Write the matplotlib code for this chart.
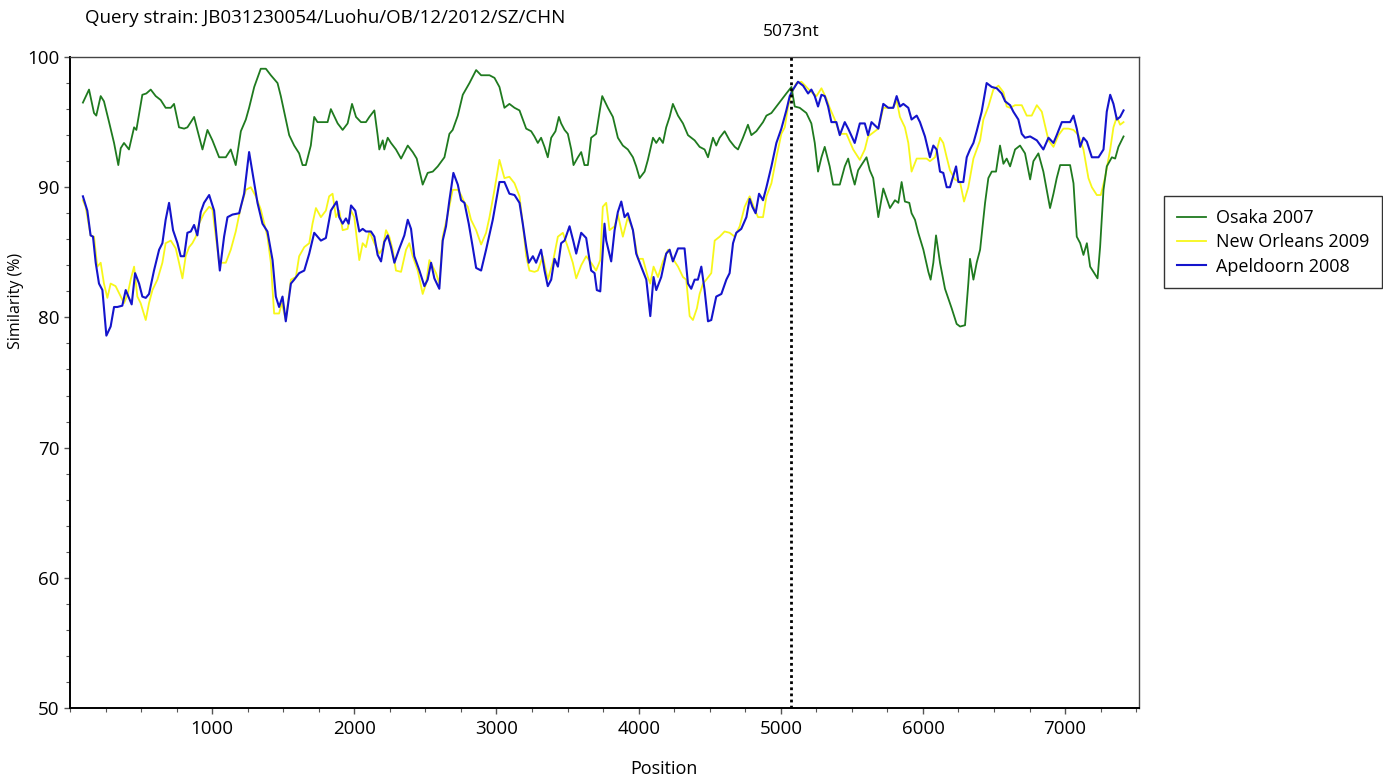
import numpy as np
import matplotlib.pyplot as plt
from matplotlib.ticker import MultipleLocator

plt.rcParams['font.family'] = ['Open Sans', 'DejaVu Sans']

# Osaka 2007 (green)
osaka_pos = [91, 134, 169, 185, 216, 239, 275, 310, 340, 357, 380, 415, 451, 467, 509, 537, 568, 603, 638,
             673, 709, 732, 767, 803, 826, 850, 873, 896, 932, 967, 1002, 1049, 1096, 1131, 1166, 1202, 1237,
             1260, 1296, 1342, 1378, 1413, 1460, 1483, 1542, 1577, 1612, 1636, 1659, 1694, 1718, 1741, 1812,
             1835, 1883, 1918, 1953, 1984, 2012, 2047, 2082, 2106, 2141, 2164, 2176, 2200, 2211, 2235, 2258,
             2293, 2329, 2376, 2411, 2439, 2481, 2516, 2552, 2587, 2634, 2669, 2692, 2728, 2763, 2810, 2857,
             2892, 2951, 2986, 3021, 3056, 3091, 3127, 3162, 3209, 3244, 3267, 3291, 3314, 3338, 3361, 3385,
             3415, 3439, 3455, 3479, 3502, 3526, 3542, 3573, 3596, 3619, 3643, 3666, 3701, 3730, 3744, 3784,
             3819, 3854, 3889, 3924, 3960, 3983, 4007, 4042, 4065, 4101, 4124, 4147, 4171, 4194, 4218, 4241,
             4277, 4312, 4347, 4394, 4429, 4464, 4488, 4523, 4546, 4570, 4605, 4640, 4676, 4699, 4734, 4769,
             4793, 4828, 4875, 4899, 4934, 4969, 5004, 5039, 5075, 5098, 5133, 5180, 5215, 5239, 5262, 5286,
             5309, 5344, 5368, 5415, 5450, 5474, 5497, 5520, 5544, 5567, 5603, 5626, 5650, 5686, 5721, 5768,
             5803, 5827, 5850, 5873, 5904, 5920, 5944, 5967, 6003, 6038, 6054, 6073, 6092, 6120, 6155, 6202,
             6237, 6261, 6296, 6319, 6331, 6355, 6378, 6402, 6437, 6460, 6484, 6514, 6542, 6566, 6589, 6613,
             6648, 6683, 6718, 6754, 6777, 6812, 6847, 6894, 6918, 6941, 6965, 7035, 7059, 7082, 7106, 7129,
             7153, 7176, 7199, 7228, 7246, 7270, 7293, 7329, 7352, 7375, 7411]
osaka_sim = [96.5, 97.5, 95.7, 95.5, 97.0, 96.6, 95.0, 93.4, 91.7, 93.0, 93.4, 92.9, 94.6, 94.4, 97.1, 97.2,
             97.5, 97.0, 96.7, 96.1, 96.1, 96.4, 94.6, 94.5, 94.6, 95.0, 95.4, 94.4, 92.9, 94.4, 93.6, 92.3,
             92.3, 92.9, 91.7, 94.3, 95.2, 96.1, 97.7, 99.1, 99.1, 98.6, 98.0, 97.0, 94.0, 93.2, 92.6, 91.7,
             91.7, 93.2, 95.4, 95.0, 95.0, 96.0, 94.9, 94.4, 94.9, 96.4, 95.4, 95.0, 95.0, 95.4, 95.9, 94.0,
             92.9, 93.6, 92.9, 93.8, 93.4, 92.9, 92.2, 93.2, 92.7, 92.2, 90.2, 91.1, 91.2, 91.6, 92.3, 94.1,
             94.4, 95.5, 97.1, 98.0, 99.0, 98.6, 98.6, 98.4, 97.7, 96.1, 96.4, 96.1, 95.9, 94.5, 94.3, 93.9,
             93.4, 93.8, 93.1, 92.3, 93.8, 94.3, 95.4, 94.9, 94.4, 94.1, 92.9, 91.7, 92.3, 92.7, 91.7, 91.7,
             93.8, 94.1, 96.1, 97.0, 96.1, 95.4, 93.8, 93.2, 92.9, 92.3, 91.6, 90.7, 91.2, 92.1, 93.8, 93.4,
             93.8, 93.4, 94.6, 95.4, 96.4, 95.5, 94.9, 94.0, 93.6, 93.1, 92.9, 92.3, 93.8, 93.2, 93.8, 94.3,
             93.6, 93.1, 92.9, 93.8, 94.8, 94.0, 94.3, 95.0, 95.5, 95.7, 96.2, 96.7, 97.2, 97.7, 96.2, 96.1,
             95.7, 94.9, 93.4, 91.2, 92.3, 93.1, 91.6, 90.2, 90.2, 91.6, 92.2, 91.1, 90.2, 91.3, 91.7, 92.3,
             91.3, 90.7, 87.7, 89.9, 88.4, 89.0, 88.8, 90.4, 88.9, 88.8, 88.0, 87.5, 86.5, 85.2, 83.5, 82.9,
             84.2, 86.3, 84.2, 82.2, 80.7, 79.5, 79.3, 79.4, 82.6, 84.5, 82.9, 84.2, 85.2, 88.8, 90.7, 91.2,
             91.2, 93.2, 91.8, 92.2, 91.6, 92.9, 93.2, 92.6, 90.6, 92.0, 92.6, 91.2, 88.4, 89.5, 90.7, 91.7,
             91.7, 90.3, 86.2, 85.7, 84.8, 85.7, 83.9, 83.5, 83.0, 85.4, 89.8, 91.6, 92.3, 92.2, 93.1, 93.9]

# New Orleans 2009 (yellow)
orleans_pos = [91, 110, 145, 169, 192, 216, 239, 263, 286, 321, 357, 380, 404, 427, 451, 474, 497, 533, 556,
               580, 615, 650, 673, 709, 744, 767, 791, 814, 838, 861, 885, 908, 943, 979, 1002, 1026, 1049,
               1096, 1131, 1166, 1202, 1237, 1272, 1307, 1342, 1389, 1413, 1436, 1471, 1490, 1518, 1554, 1589,
               1612, 1648, 1683, 1706, 1730, 1765, 1800, 1823, 1847, 1871, 1894, 1918, 1953, 1977, 2000, 2035,
               2059, 2082, 2106, 2141, 2176, 2200, 2223, 2246, 2270, 2293, 2329, 2364, 2387, 2411, 2446, 2481,
               2505, 2528, 2552, 2575, 2598, 2622, 2657, 2692, 2728, 2751, 2775, 2798, 2821, 2857, 2892, 2927,
               2951, 2986, 3021, 3056, 3091, 3127, 3162, 3185, 3209, 3232, 3267, 3291, 3326, 3361, 3396, 3432,
               3467, 3502, 3537, 3561, 3596, 3631, 3666, 3701, 3730, 3748, 3772, 3795, 3831, 3854, 3889, 3924,
               3960, 3995, 4030, 4065, 4082, 4105, 4136, 4171, 4206, 4241, 4277, 4312, 4335, 4359, 4382, 4410,
               4429, 4453, 4476, 4511, 4535, 4570, 4605, 4640, 4676, 4711, 4746, 4781, 4816, 4840, 4875, 4899,
               4934, 4969, 5004, 5028, 5051, 5075, 5110, 5145, 5180, 5215, 5251, 5286, 5321, 5344, 5380, 5415,
               5462, 5509, 5556, 5591, 5614, 5638, 5686, 5721, 5756, 5791, 5815, 5838, 5873, 5897, 5920, 5956,
               5991, 6026, 6049, 6085, 6120, 6143, 6167, 6190, 6225, 6261, 6289, 6319, 6355, 6402, 6425, 6460,
               6495, 6531, 6566, 6589, 6613, 6648, 6695, 6730, 6765, 6801, 6836, 6883, 6918, 6953, 6988, 7023,
               7059, 7094, 7129, 7164, 7188, 7223, 7251, 7282, 7317, 7340, 7364, 7387, 7411]
orleans_sim = [89.0, 88.5, 86.3, 86.2, 83.9, 84.2, 82.6, 81.5, 82.6, 82.4, 81.6, 81.1, 81.7, 82.9, 83.9, 81.6,
               81.1, 79.8, 81.1, 82.1, 82.9, 84.2, 85.7, 85.9, 85.3, 84.2, 83.0, 84.7, 85.4, 85.7, 86.2, 87.2,
               88.0, 88.5, 88.3, 86.2, 84.2, 84.2, 85.2, 86.6, 88.5, 89.8, 90.0, 89.3, 88.3, 86.2, 84.2, 80.3,
               80.3, 81.1, 79.8, 82.9, 83.1, 84.7, 85.4, 85.7, 87.2, 88.4, 87.7, 88.2, 89.3, 89.5, 87.7, 88.2,
               86.7, 86.8, 88.2, 87.7, 84.4, 85.7, 85.4, 86.6, 85.7, 84.9, 85.3, 86.7, 86.2, 85.2, 83.6, 83.5,
               85.2, 85.7, 84.7, 83.6, 81.8, 82.6, 84.4, 83.9, 83.4, 82.6, 86.2, 87.9, 89.8, 89.8, 89.4, 88.8,
               88.5, 87.5, 86.7, 85.6, 86.5, 87.7, 89.8, 92.1, 90.7, 90.8, 90.3, 89.3, 87.2, 84.7, 83.6, 83.5,
               83.6, 84.7, 82.9, 84.2, 86.2, 86.5, 85.4, 84.2, 83.0, 84.0, 84.7, 84.2, 83.6, 84.4, 88.5, 88.8,
               86.7, 87.0, 87.9, 86.2, 87.7, 86.7, 84.5, 84.5, 83.1, 82.6, 83.9, 83.1, 84.3, 85.2, 84.5, 83.9,
               83.1, 82.9, 80.1, 79.8, 80.7, 81.8, 82.6, 82.9, 83.4, 85.9, 86.2, 86.6, 86.5, 86.2, 87.0, 88.5,
               89.3, 88.3, 87.7, 87.7, 89.3, 90.3, 92.3, 94.1, 94.6, 96.2, 97.2, 98.0, 98.1, 97.7, 97.3, 97.0,
               97.6, 96.8, 96.1, 95.2, 94.1, 94.1, 92.9, 92.1, 92.9, 93.9, 94.1, 94.5, 96.1, 96.1, 96.1, 96.7,
               95.4, 94.6, 93.4, 91.2, 92.2, 92.2, 92.2, 92.0, 92.3, 93.8, 93.4, 92.3, 91.3, 90.6, 90.4, 88.9,
               90.0, 92.2, 93.6, 95.2, 96.2, 97.5, 97.8, 97.3, 96.2, 96.1, 96.3, 96.3, 95.5, 95.5, 96.3, 95.8,
               93.6, 93.1, 94.0, 94.5, 94.5, 94.4, 94.0, 92.9, 90.7, 90.0, 89.4, 89.4, 90.8, 92.9, 94.6, 95.4,
               94.8, 95.0]

# Apeldoorn 2008 (blue)
apeldoorn_pos = [91, 122, 145, 162, 181, 204, 228, 256, 286, 310, 333, 368, 392, 415, 434, 458, 486, 509, 533,
                 556, 591, 627, 650, 673, 697, 725, 756, 779, 803, 826, 850, 873, 896, 920, 943, 979, 1014, 1054,
                 1084, 1108, 1143, 1190, 1225, 1260, 1296, 1319, 1354, 1389, 1425, 1448, 1471, 1495, 1518, 1554,
                 1577, 1612, 1648, 1683, 1718, 1741, 1765, 1800, 1835, 1876, 1894, 1918, 1941, 1960, 1977, 2007,
                 2035, 2059, 2082, 2117, 2141, 2164, 2188, 2211, 2235, 2258, 2282, 2317, 2352, 2376, 2399, 2422,
                 2458, 2493, 2516, 2540, 2563, 2598, 2622, 2645, 2669, 2697, 2728, 2751, 2775, 2805, 2833, 2857,
                 2892, 2927, 2974, 3021, 3056, 3091, 3127, 3162, 3185, 3209, 3227, 3256, 3279, 3314, 3338, 3361,
                 3385, 3408, 3432, 3455, 3479, 3514, 3542, 3561, 3596, 3631, 3666, 3690, 3706, 3730, 3760, 3772,
                 3807, 3831, 3854, 3878, 3901, 3924, 3960, 3983, 4018, 4054, 4082, 4105, 4124, 4159, 4194, 4218,
                 4241, 4277, 4323, 4347, 4370, 4394, 4417, 4441, 4464, 4488, 4511, 4546, 4582, 4617, 4640, 4664,
                 4687, 4722, 4758, 4781, 4800, 4823, 4847, 4875, 4899, 4934, 4969, 5004, 5039, 5063, 5086, 5121,
                 5157, 5192, 5215, 5239, 5262, 5286, 5309, 5333, 5356, 5391, 5415, 5450, 5474, 5520, 5556, 5591,
                 5614, 5638, 5686, 5721, 5756, 5791, 5815, 5838, 5862, 5897, 5920, 5956, 5979, 6014, 6049, 6073,
                 6096, 6120, 6143, 6167, 6190, 6214, 6233, 6249, 6284, 6308, 6331, 6355, 6378, 6413, 6448, 6484,
                 6519, 6554, 6578, 6613, 6636, 6671, 6695, 6718, 6754, 6801, 6847, 6883, 6918, 6941, 6977, 7035,
                 7059, 7082, 7106, 7129, 7153, 7188, 7235, 7270, 7293, 7317, 7340, 7364, 7387, 7411]
apeldoorn_sim = [89.3, 88.2, 86.3, 86.2, 84.2, 82.6, 82.1, 78.6, 79.3, 80.8, 80.8, 80.9, 82.1, 81.5, 81.0, 83.4,
                 82.6, 81.6, 81.5, 81.8, 83.6, 85.2, 85.7, 87.5, 88.8, 86.7, 85.7, 84.7, 84.7, 86.5, 86.6, 87.1,
                 86.3, 88.1, 88.8, 89.4, 88.2, 83.6, 86.2, 87.7, 87.9, 88.0, 89.5, 92.7, 90.3, 88.8, 87.2, 86.6,
                 84.4, 81.6, 80.8, 81.6, 79.7, 82.6, 82.9, 83.4, 83.6, 84.9, 86.5, 86.2, 85.9, 86.1, 88.2, 88.9,
                 87.7, 87.2, 87.6, 87.2, 88.6, 88.2, 86.6, 86.8, 86.6, 86.6, 86.2, 84.8, 84.3, 85.8, 86.3, 85.4,
                 84.2, 85.3, 86.3, 87.5, 86.8, 84.7, 83.6, 82.4, 82.9, 84.2, 83.0, 82.2, 85.9, 87.0, 89.0, 91.1,
                 90.2, 89.0, 88.8, 87.2, 85.4, 83.8, 83.6, 85.2, 87.5, 90.4, 90.4, 89.5, 89.4, 88.8, 87.2, 85.4,
                 84.2, 84.7, 84.2, 85.2, 83.6, 82.4, 82.9, 84.5, 83.9, 85.7, 85.9, 87.0, 85.8, 84.9, 86.5, 86.1,
                 83.6, 83.4, 82.1, 82.0, 87.2, 85.9, 84.3, 86.7, 88.1, 88.9, 87.7, 88.0, 86.7, 84.9, 83.9, 82.9,
                 80.1, 83.1, 82.1, 83.1, 84.9, 85.2, 84.3, 85.3, 85.3, 82.6, 82.2, 82.9, 82.9, 83.9, 82.1, 79.7,
                 79.8, 81.6, 81.8, 82.9, 83.4, 85.7, 86.5, 86.8, 87.7, 89.1, 88.5, 88.0, 89.5, 89.0, 90.0, 91.6,
                 93.4, 94.5, 95.9, 97.0, 97.5, 98.1, 97.8, 97.2, 97.5, 97.0, 96.2, 97.1, 97.0, 96.2, 95.0, 95.0,
                 94.0, 95.0, 94.5, 93.4, 94.9, 94.9, 94.0, 95.0, 94.5, 96.4, 96.1, 96.1, 97.0, 96.2, 96.4, 96.1,
                 95.2, 95.5, 95.0, 93.9, 92.3, 93.2, 92.9, 91.2, 91.1, 90.0, 90.0, 90.9, 91.6, 90.4, 90.4, 92.3,
                 92.9, 93.4, 94.3, 95.8, 98.0, 97.7, 97.6, 97.2, 96.6, 96.3, 95.8, 95.2, 94.1, 93.8, 93.9, 93.6,
                 92.9, 93.8, 93.4, 94.0, 95.0, 95.0, 95.5, 94.5, 93.1, 93.8, 93.5, 92.3, 92.3, 92.9, 95.8, 97.1,
                 96.4, 95.2, 95.4, 95.9]

breakpoint_nt = 5073
series_names = ['Osaka 2007', 'New Orleans 2009', 'Apeldoorn 2008']
series_colors = ['#1f7a1f', '#f7f71a', '#1414cc']

fig = plt.figure(figsize=(13.83, 7.78), dpi=100, facecolor='white')
ax = fig.add_axes([0.0506, 0.090, 0.7730, 0.8367])

ax.plot(osaka_pos, osaka_sim, color=series_colors[0], lw=1.3, label=series_names[0], zorder=3)
ax.plot(orleans_pos, orleans_sim, color=series_colors[1], lw=1.3, label=series_names[1], zorder=2)
ax.plot(apeldoorn_pos, apeldoorn_sim, color=series_colors[2], lw=1.5, label=series_names[2], zorder=2.5)

# breakpoint marker
ax.axvline(breakpoint_nt, color='black', ls=(0, (1, 1.2)), lw=2.0, zorder=4)
ax.text(breakpoint_nt, 101.9, f'{breakpoint_nt}nt', ha='center', va='center', fontsize=12.5)

ax.set_xlim(0, 7520)
ax.set_ylim(50, 100)
ax.set_xticks([1000, 2000, 3000, 4000, 5000, 6000, 7000])
ax.set_yticks([50, 60, 70, 80, 90, 100])
ax.xaxis.set_minor_locator(MultipleLocator(250))
ax.yaxis.set_minor_locator(MultipleLocator(2))
ax.tick_params(which='both', direction='out', color='#555555')
ax.tick_params(which='major', length=4, width=1, labelsize=13.5)
ax.tick_params(which='minor', length=3, width=0.8)
ax.tick_params(axis='x', pad=5)

for side, sp in ax.spines.items():
    sp.set_linewidth(1.4 if side in ('left', 'bottom') else 1.0)
    sp.set_color('black' if side in ('left', 'bottom') else '#444444')

ax.set_xlabel('Position', fontsize=13)
ax.xaxis.set_label_coords(0.556, -0.08)
ax.set_ylabel('Similarity (%)', fontsize=11.5)
ax.yaxis.set_label_coords(-0.043, 0.625)

fig.text(0.0615, 0.977, 'Query strain: JB031230054/Luohu/OB/12/2012/SZ/CHN', ha='left', va='center',
         fontsize=13.5)

leg = ax.legend(loc='upper left', bbox_to_anchor=(1.015, 0.80), fontsize=13, frameon=True,
                fancybox=False, edgecolor='black', borderpad=0.7, handlelength=1.6,
                labelspacing=0.35, handletextpad=0.6)
leg.get_frame().set_linewidth(1.0)

fig.savefig('out.png', dpi=100, facecolor='white')
